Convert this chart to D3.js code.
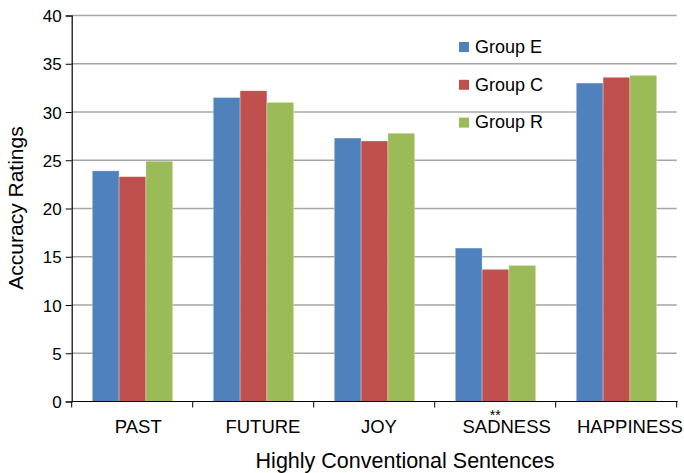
<!DOCTYPE html>
<html><head><meta charset="utf-8">
<script src="https://cdn.jsdelivr.net/npm/d3@7"></script>
<style>body{margin:0;background:#fff}svg{display:block}text{font-family:"Liberation Sans",Arial,sans-serif}</style>
</head><body>
<svg id="c" width="684" height="473"></svg>
<script>
const categories = ["PAST","FUTURE","JOY","SADNESS","HAPPINESS"];
const groups = ["Group E","Group C","Group R"];
const groupE = [23.9, 31.5, 27.3, 15.9, 33.0];
const groupC = [23.3, 32.2, 27.0, 13.7, 33.6];
const groupR = [24.9, 31.0, 27.8, 14.1, 33.8];
const colors = ["#4F81BD","#C0504D","#9BBB59"];
const yTicks = [0,5,10,15,20,25,30,35,40];
const annotations = [{cat:"SADNESS", text:"**"}];

const series = [groupE, groupC, groupR];
const svg = d3.select("#c");
const m = {l:71.7, r:676.7, t:15.5, b:401.5};
const x = d3.scaleBand().domain(categories).range([m.l, m.r]);
const xg = d3.scaleBand().domain(groups).range([x.bandwidth()*0.17, x.bandwidth()*0.835]);
const y = d3.scaleLinear().domain([0,40]).range([m.b, m.t]);

// gridlines
svg.append("g").selectAll("line").data(yTicks.filter(d=>d>0)).join("line")
  .attr("x1", m.l).attr("x2", m.r).attr("y1", d=>y(d)).attr("y2", d=>y(d))
  .attr("stroke","#a6a6a6").attr("stroke-width",1.6);

// bars
categories.forEach((c,i)=>{
  groups.forEach((g,j)=>{
    svg.append("rect").attr("x", x(c)+xg(g)).attr("width", xg.bandwidth())
      .attr("y", y(series[j][i])).attr("height", y(0)-y(series[j][i]))
      .attr("fill", colors[j]).attr("stroke","rgba(255,255,255,0.5)").attr("stroke-width",0.6);
  });
});

// y axis
const ya = svg.append("g").attr("transform",`translate(${m.l},0)`)
  .call(d3.axisLeft(y).tickValues(yTicks).tickSize(6).tickPadding(4));
ya.select(".domain").attr("stroke","#000").attr("stroke-width",1.2);
ya.selectAll(".tick line").attr("stroke","#000");
ya.selectAll("text").attr("font-size",17).attr("fill","#000").attr("dy","0.36em");

// x axis
const xa = svg.append("g").attr("transform",`translate(0,${m.b})`);
xa.append("line").attr("x1",m.l).attr("x2",m.r+1).attr("stroke","#000").attr("stroke-width",1.2);
const bounds = categories.map(c=>x(c)).concat([m.r]);
xa.selectAll("line.t").data(bounds).join("line").attr("class","t")
  .attr("x1",d=>d).attr("x2",d=>d).attr("y1",0).attr("y2",6).attr("stroke","#000");
xa.selectAll("text.cat").data(categories).join("text").attr("class","cat")
  .attr("y",31).attr("text-anchor","start")
  .attr("font-size",18.5).attr("fill","#000").text(d=>d)
  .attr("x",function(d){ const w=this.getComputedTextLength(); return x(d)+x.bandwidth()/2-0.37*w; });
annotations.forEach(a=>{
  xa.append("text").attr("x",x(a.cat)+x.bandwidth()/2).attr("y",14.5)
    .attr("text-anchor","middle").attr("font-size",14).attr("dominant-baseline","hanging")
    .attr("transform","translate(0,-6)").attr("fill","#000").text(a.text);
});

// titles
svg.append("text").attr("x",405).attr("y",468).attr("text-anchor","middle")
  .attr("font-size",21.5).attr("fill","#000").text("Highly Conventional Sentences");
svg.append("text").attr("transform","translate(23,208) rotate(-90)").attr("text-anchor","middle")
  .attr("font-size",21).attr("fill","#000").text("Accuracy Ratings");

// legend
const lg = svg.append("g").attr("transform","translate(459,42)");
groups.forEach((g,j)=>{
  lg.append("rect").attr("x",0).attr("y",j*37.8).attr("width",10).attr("height",10).attr("fill",colors[j]);
  lg.append("text").attr("x",16).attr("y",j*37.8+10.7).attr("font-size",18).attr("fill","#000").text(g);
});
</script>
</body></html>
